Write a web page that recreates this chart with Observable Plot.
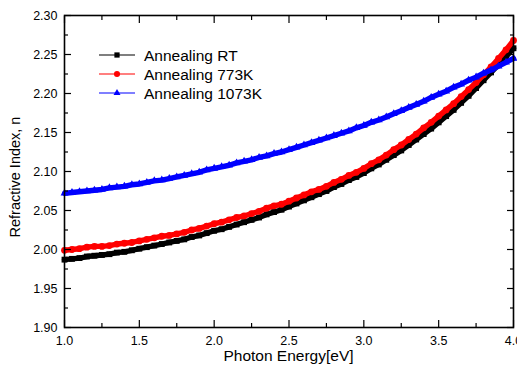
<!DOCTYPE html>
<html><head><meta charset="utf-8">
<script src="https://cdn.jsdelivr.net/npm/d3@7"></script>
<script src="https://cdn.jsdelivr.net/npm/@observablehq/plot@0.6"></script>
<style>
body{margin:0;background:#fff;overflow:hidden}
#chart svg{font-family:"Liberation Sans",Arial,sans-serif;color:#000;background:#fff}
</style>
</head><body><div id="chart"></div>
<script>
const energy = [1.00,1.05,1.10,1.15,1.20,1.25,1.30,1.35,1.40,1.45,1.50,1.55,1.60,1.65,1.70,1.75,1.80,1.85,1.90,1.95,
  2.00,2.05,2.10,2.15,2.20,2.25,2.30,2.35,2.40,2.45,2.50,2.55,2.60,2.65,2.70,2.75,2.80,2.85,2.90,2.95,
  3.00,3.05,3.10,3.15,3.20,3.25,3.30,3.35,3.40,3.45,3.50,3.55,3.60,3.65,3.70,3.75,3.80,3.85,3.90,3.95,4.00];
const nRT = [1.987,1.988,1.989,1.991,1.992,1.993,1.994,1.996,1.997,1.999,2.001,2.003,2.005,2.007,2.009,2.011,2.013,2.016,2.018,2.021,
  2.024,2.026,2.029,2.032,2.035,2.038,2.041,2.045,2.048,2.051,2.055,2.059,2.063,2.067,2.071,2.075,2.080,2.084,2.089,2.093,
  2.098,2.104,2.109,2.115,2.121,2.127,2.134,2.141,2.148,2.155,2.163,2.171,2.179,2.188,2.197,2.207,2.217,2.227,2.237,2.247,2.258];
const n773K = [1.999,2.000,2.001,2.003,2.004,2.004,2.005,2.007,2.008,2.009,2.011,2.013,2.015,2.017,2.018,2.020,2.022,2.025,2.027,2.030,
  2.033,2.035,2.038,2.041,2.043,2.046,2.049,2.053,2.056,2.058,2.062,2.066,2.070,2.074,2.077,2.081,2.086,2.090,2.095,2.099,
  2.104,2.110,2.115,2.121,2.128,2.134,2.141,2.148,2.156,2.163,2.171,2.179,2.187,2.196,2.205,2.214,2.224,2.234,2.245,2.256,2.268];
const n1073K = [2.072,2.073,2.074,2.075,2.076,2.077,2.079,2.080,2.081,2.083,2.084,2.086,2.088,2.089,2.091,2.093,2.095,2.097,2.099,2.102,
  2.104,2.106,2.108,2.111,2.113,2.115,2.118,2.120,2.123,2.125,2.128,2.131,2.134,2.137,2.140,2.143,2.146,2.149,2.152,2.156,
  2.159,2.163,2.166,2.170,2.174,2.178,2.182,2.186,2.190,2.195,2.199,2.203,2.208,2.212,2.217,2.221,2.226,2.230,2.235,2.240,2.245];

const seriesNames = ["Annealing RT","Annealing 773K","Annealing 1073K"];
const seriesValues = [nRT, n773K, n1073K];
const seriesColors = ["#000000","#ff0000","#0000ff"];
const seriesSymbols = ["square","circle","triangle"];
const seriesR = [3.3, 3.4, 2.9];

const xTicks = [1.0,1.5,2.0,2.5,3.0,3.5,4.0];
const xMinorTicks = [1.25,1.75,2.25,2.75,3.25,3.75];
const yTicks = [1.90,1.95,2.00,2.05,2.10,2.15,2.20,2.25,2.30];
const yMinorTicks = [1.925,1.975,2.025,2.075,2.125,2.175,2.225,2.275];
const xTitle = "Photon Energy[eV]";
const yTitle = "Refractive Index, n";

const seriesMarks = seriesNames.flatMap((name, i) => {
  const rows = energy.map((e, j) => ({E: e, n: seriesValues[i][j]}));
  return [
    Plot.line(rows, {x: "E", y: "n", stroke: seriesColors[i], strokeWidth: 5.4}),
    Plot.dot(rows, {x: "E", y: "n", symbol: seriesSymbols[i], r: seriesR[i], fill: seriesColors[i], stroke: "none"})
  ];
});

const tickStyle = {tickFormat: () => "", label: null, stroke: "#000", strokeWidth: 1.2};

const chart = Plot.plot({
  width: 517, height: 374,
  marginLeft: 64, marginRight: 4, marginTop: 15, marginBottom: 47,
  x: {domain: [1, 4]},
  y: {domain: [1.9, 2.3]},
  style: {fontFamily: "'Liberation Sans', Arial, sans-serif", color: "#000", background: "#fff", overflow: "hidden"},
  marks: [
    ...seriesMarks,
    Plot.axisX({anchor: "bottom", ticks: xTicks, tickSize: -7, ...tickStyle}),
    Plot.axisX({anchor: "bottom", ticks: xMinorTicks, tickSize: -4, ...tickStyle}),
    Plot.axisX({anchor: "top", ticks: xTicks, tickSize: -7, ...tickStyle}),
    Plot.axisX({anchor: "top", ticks: xMinorTicks, tickSize: -4, ...tickStyle}),
    Plot.axisY({anchor: "left", ticks: yTicks, tickSize: -7, ...tickStyle}),
    Plot.axisY({anchor: "left", ticks: yMinorTicks, tickSize: -4, ...tickStyle}),
    Plot.axisY({anchor: "right", ticks: yTicks, tickSize: -7, ...tickStyle}),
    Plot.axisY({anchor: "right", ticks: yMinorTicks, tickSize: -4, ...tickStyle}),
    Plot.axisX({anchor: "bottom", ticks: xTicks, tickSize: 0, tickPadding: 9, tickFormat: d3.format(".1f"), label: null, fontSize: 12.5, fill: "#000"}),
    Plot.axisY({anchor: "left", ticks: yTicks, tickSize: 0, tickPadding: 7, tickFormat: d3.format(".2f"), label: null, fontSize: 12.5, fill: "#000"}),
    Plot.frame({stroke: "#000", strokeWidth: 1.6})
  ]
});

document.getElementById("chart").appendChild(chart);

const svg = d3.select(chart);
const xs = chart.scale("x"), ys = chart.scale("y");
const midX = (xs.apply(1) + xs.apply(4)) / 2;
const midY = (ys.apply(1.9) + ys.apply(2.3)) / 2;

svg.append("text").attr("x", midX).attr("y", 361)
  .attr("text-anchor", "middle").attr("font-size", 15.5).attr("fill", "#000").text(xTitle);
svg.append("text").attr("transform", `translate(20,${midY + 6}) rotate(-90)`)
  .attr("text-anchor", "middle").attr("font-size", 14.5).attr("fill", "#000").text(yTitle);

const legend = svg.append("g").attr("text-anchor", "start");
seriesNames.forEach((name, i) => {
  const y = 55 + i * 19;
  const g = legend.append("g");
  g.append("line").attr("x1", 99).attr("x2", 135).attr("y1", y).attr("y2", y)
    .attr("stroke", seriesColors[i]).attr("stroke-width", 1.2);
  const sym = {square: d3.symbolSquare, circle: d3.symbolCircle, triangle: d3.symbolTriangle}[seriesSymbols[i]];
  g.append("path").attr("transform", `translate(117,${y})`)
    .attr("d", d3.symbol(sym, Math.PI * seriesR[i] * seriesR[i] * 0.8)()).attr("fill", seriesColors[i]);
  g.append("text").attr("x", 144).attr("y", y + 5.5).attr("text-anchor", "start")
    .attr("font-size", 15.5).attr("fill", "#000").text(name);
});
</script>
</body></html>
